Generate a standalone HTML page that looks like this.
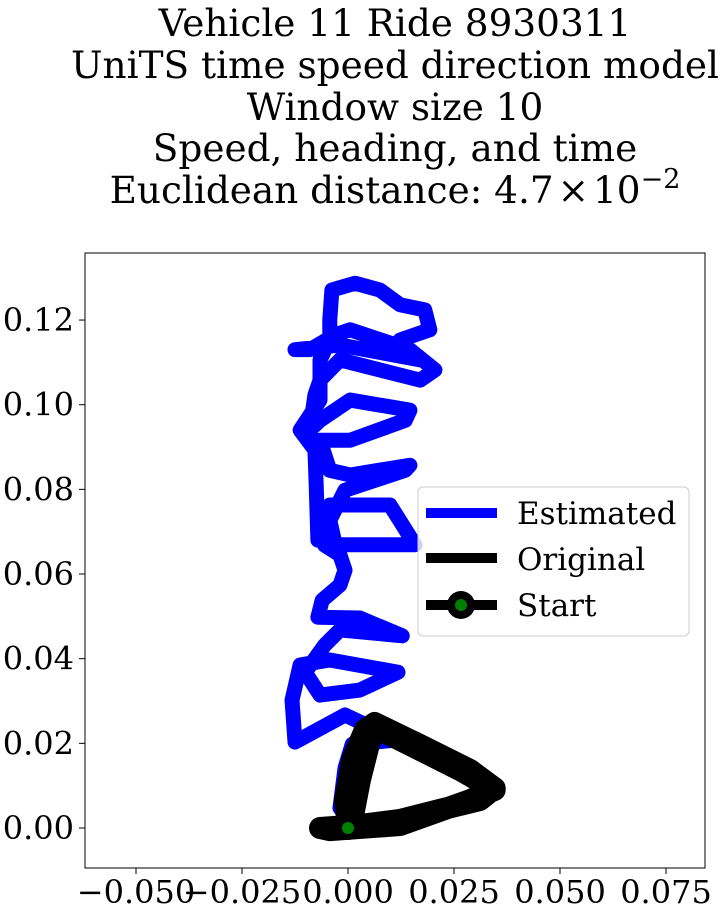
<!DOCTYPE html>
<html><head><meta charset="utf-8"><style>
body{margin:0;background:#fff;}
svg text{font-family:"DejaVu Serif","Liberation Serif",serif;fill:#000;}
</style></head><body>
<svg id="c" width="727" height="916" xmlns="http://www.w3.org/2000/svg">
<g font-size="37.4" text-anchor="middle">
<text x="395" y="36">Vehicle 11 Ride 8930311</text>
<text x="395" y="78">UniTS time speed direction model</text>
<text x="395" y="120">Window size 10</text>
<text x="395" y="161">Speed, heading, and time</text>
<text x="395" y="203">Euclidean distance: 4.7<tspan dx="4">×</tspan><tspan dx="4">10</tspan><tspan dy="-15" font-size="27">−2</tspan></text>
</g>
<g id="plot"></g>
</svg>
<script>
const xTicks=[-0.05,-0.025,0,0.025,0.05,0.075];
const xTickLabels=["−0.050","−0.025","0.000","0.025","0.050","0.075"];
const yTicks=[0,0.02,0.04,0.06,0.08,0.1,0.12];
const yTickLabels=["0.00","0.02","0.04","0.06","0.08","0.10","0.12"];
const estX=[-0.0019,-0.0007,0.0010,0.0118,-0.0007,-0.0125,-0.0132,-0.0113,-0.0043,0.0118,0.0028,-0.0066,-0.0101,-0.0055,-0.0019,0.0128,0.0028,-0.0071,-0.0061,-0.0019,-0.0007,-0.0019,-0.0055,-0.0066,-0.0043,0.0099,0.0158,0.0052,-0.0030,-0.0043,-0.0007,0.0135,0.0146,0.0005,-0.0043,-0.0066,0.0005,0.0135,0.0146,0.0005,-0.0066,-0.0090,-0.0078,-0.0066,-0.0019,0.0170,0.0205,0.0146,0.0005,-0.0030,-0.0090,-0.0125,-0.0019,0.0170,0.0123,0.0193,0.0181,0.0123,0.0075,0.0017,-0.0038,-0.0043,-0.0043,-0.0066,-0.0066,-0.0113,-0.0078,-0.0075,-0.0071];
const estY=[0.0047,0.0142,0.0198,0.0208,0.0267,0.0203,0.0302,0.0385,0.0397,0.0368,0.0326,0.0314,0.0368,0.0432,0.0468,0.0454,0.0496,0.0498,0.0538,0.0574,0.0609,0.0645,0.0668,0.0727,0.0763,0.0763,0.0669,0.0669,0.0669,0.0727,0.0798,0.0845,0.0857,0.0834,0.0845,0.0916,0.0916,0.0963,0.0987,0.1011,0.0963,0.0940,0.1023,0.1058,0.1106,0.1058,0.1082,0.1130,0.1177,0.1165,0.1130,0.1130,0.1141,0.1106,0.1153,0.1177,0.1224,0.1236,0.1271,0.1287,0.1271,0.1200,0.1153,0.1106,0.1011,0.0940,0.0893,0.0810,0.0680];
const origX=[0,-0.0007,0.0010,0.0040,0.0063,0.0170,0.0288,0.0346,0.0311,0.0217,0.0123,0.0028,-0.0066,-0.0043,0.0123,0.0288,0.0346,0.0264,0.0075,0.0052,0.0028,0.0010,0];
const origY=[0,0.0066,0.0161,0.0232,0.0248,0.0196,0.0137,0.0094,0.0066,0.0043,0.0019,0.0007,0,-0.0005,0.0007,0.0066,0.0090,0.0137,0.0232,0.0208,0.0113,0.0019,0];
const NS="http://www.w3.org/2000/svg";
const L=85,R=705,T=253,B=868;
const sx=v=>348+v*4240, sy=v=>828-v*4233;
const g=document.getElementById('plot');
function mk(tag,attrs,parent){const e=document.createElementNS(NS,tag);for(const k in attrs)e.setAttribute(k,attrs[k]);(parent||g).appendChild(e);return e;}
const clip=mk('clipPath',{id:'cp'});mk('rect',{x:L,y:T,width:R-L,height:B-T},clip);
const pts=(xs,ys)=>xs.map((v,i)=>sx(v)+','+sy(ys[i])).join(' ');
const est=mk('polyline',{points:pts(estX,estY),fill:'none',stroke:'#0000ff','stroke-width':15,'stroke-linejoin':'round','stroke-linecap':'round','clip-path':'url(#cp)'});


const orig=mk('polyline',{points:pts(origX,origY),fill:'none',stroke:'#000','stroke-width':22,'stroke-linejoin':'round','stroke-linecap':'round','clip-path':'url(#cp)'});


const s1=mk('circle',{cx:sx(origX[0]),cy:sy(origY[0]),r:12,fill:'#000'});


mk('circle',{cx:sx(origX[0]),cy:sy(origY[0]),r:6,fill:'#008000'});
const fr=mk('rect',{x:L,y:T,width:R-L,height:B-T,fill:'none',stroke:'#000','stroke-width':1});


xTicks.forEach((v,i)=>{
  mk('line',{x1:sx(v),x2:sx(v),y1:B,y2:B+6,stroke:'#000'});
  const t=mk('text',{x:sx(v),y:B+35,'font-size':32,'text-anchor':'middle'});t.textContent=xTickLabels[i];
  
  
});
yTicks.forEach((v,i)=>{
  mk('line',{x1:L-6,x2:L,y1:sy(v),y2:sy(v),stroke:'#000'});
  const t=mk('text',{x:L-11,y:sy(v)+11,'font-size':32,'text-anchor':'end'});t.textContent=yTickLabels[i];
  
  
});
const lg=mk('g',{});


mk('rect',{x:418,y:487,width:271,height:149,rx:5,fill:'#fff','fill-opacity':0.8,stroke:'#ccc'},lg);
mk('line',{x1:426,x2:497,y1:513,y2:513,stroke:'#0000ff','stroke-width':10},lg);
mk('line',{x1:426,x2:497,y1:558,y2:558,stroke:'#000','stroke-width':10},lg);
mk('line',{x1:426,x2:497,y1:605,y2:605,stroke:'#000','stroke-width':10},lg);
mk('circle',{cx:461,cy:605,r:14,fill:'#000'},lg);
mk('circle',{cx:461,cy:605,r:6,fill:'#008000'},lg);
["Estimated","Original","Start"].forEach((s,i)=>{const t=mk('text',{x:517,y:524+i*46,'font-size':31},lg);t.textContent=s;
  
  });
</script>
</body></html>
